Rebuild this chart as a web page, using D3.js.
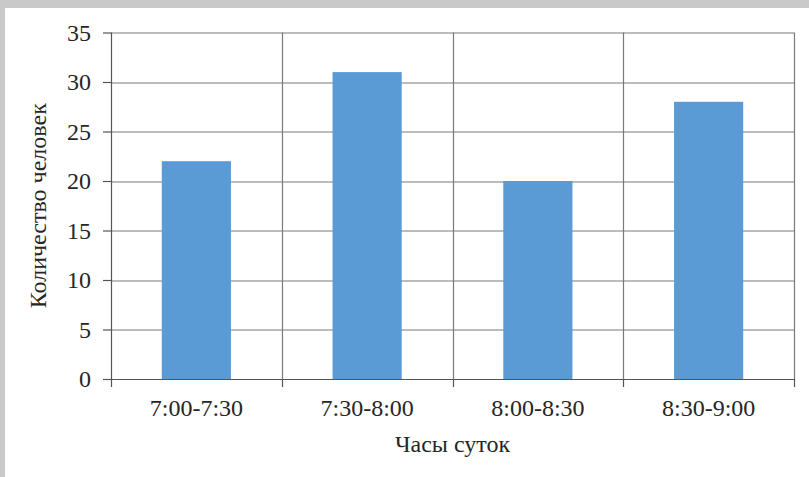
<!DOCTYPE html>
<html>
<head>
<meta charset="utf-8">
<script src="https://cdn.jsdelivr.net/npm/d3@7"></script>
<style>
  html, body { margin: 0; padding: 0; background: #ffffff; }
  svg { display: block; }
  text { font-family: "Liberation Serif", "Times New Roman", serif; fill: #262626; }
</style>
</head>
<body>
<svg id="chart" width="809" height="477"></svg>
<script>
// Number of people per half-hour interval
const categories = ["7:00-7:30", "7:30-8:00", "8:00-8:30", "8:30-9:00"];
const values = [22, 31, 20, 28];
const yTicks = [0, 5, 10, 15, 20, 25, 30, 35];
const xTitle = "Часы суток";
const yTitle = "Количество человек";

const W = 809, H = 477;
const margin = { left: 111, right: 15, top: 32.5, bottom: 98 };
const plotW = W - margin.left - margin.right;
const plotH = H - margin.top - margin.bottom;
const fontSize = 24;

const svg = d3.select("#chart");

// outer grey frame (top and left bands)
svg.append("rect").attr("x", 0).attr("y", 0).attr("width", W).attr("height", H).attr("fill", "#c9c9c9");
svg.append("rect").attr("x", 5).attr("y", 8).attr("width", W - 5).attr("height", H - 8).attr("fill", "#ffffff");

const x = d3.scaleBand().domain(categories).range([0, plotW]).padding(0);
const y = d3.scaleLinear().domain([0, 35]).range([plotH, 0]);

const g = svg.append("g").attr("transform", `translate(${margin.left},${margin.top})`);

const gridColor = "#7a7a7a";

// horizontal gridlines
g.append("g").selectAll("line").data(yTicks.filter(t => t > 0)).join("line")
  .attr("x1", 0).attr("x2", plotW)
  .attr("y1", d => Math.round(y(d)) + 0.5).attr("y2", d => Math.round(y(d)) + 0.5)
  .attr("stroke", gridColor).attr("stroke-width", 1.2);

// vertical gridlines at category boundaries (incl. right edge)
const bounds = categories.slice(1).map(c => x(c)).concat([plotW]);
g.append("g").selectAll("line").data(bounds).join("line")
  .attr("x1", d => Math.round(d) + 0.5).attr("x2", d => Math.round(d) + 0.5)
  .attr("y1", 0).attr("y2", plotH)
  .attr("stroke", gridColor).attr("stroke-width", 1.2);

// bars
const barFrac = 0.405;
g.append("g").selectAll("rect").data(values).join("rect")
  .attr("x", (d, i) => x(categories[i]) + x.bandwidth() * (1 - barFrac) / 2)
  .attr("width", x.bandwidth() * barFrac)
  .attr("y", d => y(d))
  .attr("height", d => y(0) - y(d))
  .attr("fill", "#5b9bd5");

// y axis
const yAxis = g.append("g")
  .call(d3.axisLeft(y).tickValues(yTicks).tickSize(8).tickPadding(12).tickFormat(d3.format("d")));
yAxis.select(".domain").attr("stroke", "#555").attr("stroke-width", 1.2).attr("d", `M0.5,0V${plotH}`);
yAxis.selectAll(".tick line").attr("stroke", "#555").attr("stroke-width", 1.2);
yAxis.selectAll(".tick text").attr("font-size", fontSize).style("font-family", "Liberation Serif").attr("fill", "#262626");

// x axis
const xAxis = g.append("g").attr("transform", `translate(0,${plotH})`)
  .call(d3.axisBottom(x).tickSize(0).tickPadding(20));
xAxis.select(".domain").attr("stroke", "#555").attr("stroke-width", 1.2).attr("d", `M0,0.5H${plotW}`);
xAxis.selectAll(".tick text").attr("font-size", fontSize).style("font-family", "Liberation Serif").attr("fill", "#262626");

// tick marks at category boundaries below the axis
g.append("g").selectAll("line").data([0].concat(bounds)).join("line")
  .attr("x1", d => Math.round(d) + 0.5).attr("x2", d => Math.round(d) + 0.5)
  .attr("y1", plotH).attr("y2", plotH + 8)
  .attr("stroke", "#555").attr("stroke-width", 1.2);

// axis titles
svg.append("text")
  .attr("x", margin.left + plotW / 2).attr("y", 452)
  .attr("text-anchor", "middle").attr("font-size", fontSize)
  .text(xTitle);

svg.append("text")
  .attr("transform", `translate(46,${margin.top + plotH / 2}) rotate(-90)`)
  .attr("text-anchor", "middle").attr("font-size", fontSize)
  .text(yTitle);
</script>
</body>
</html>
